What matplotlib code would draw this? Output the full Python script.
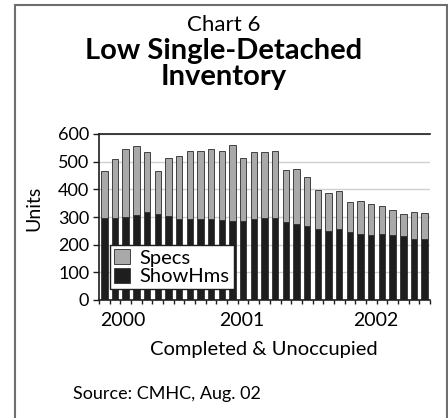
import matplotlib
matplotlib.use("Agg")
import matplotlib.pyplot as plt
from matplotlib.patches import Rectangle

# Inventario mensual ene 2000 - jul 2002 (unidades)
meses = list(range(31))
total = [465, 511, 545, 555, 535, 466, 513, 522, 537, 537, 547, 540, 560, 514,
         535, 535, 540, 471, 475, 444, 396, 385, 394, 354, 357, 348, 341, 327,
         310, 318, 313]
showhms = [296, 296, 301, 307, 318, 310, 304, 293, 293, 291, 293, 290, 287, 286,
           291, 296, 295, 283, 275, 266, 258, 251, 255, 246, 240, 234, 238, 235,
           231, 222, 220]
specs = [t - s for t, s in zip(total, showhms)]

anios = ["2000", "2001", "2002"]
pos_anios = [1.7, 12.9, 25.4]

plt.rcParams["font.family"] = ["Lato", "DejaVu Sans"]

fig = plt.figure(figsize=(4.48, 4.18), dpi=100)

# marco gris alrededor de todo
fig.patches.append(Rectangle((15 / 448, -0.01), 432 / 448, 1 - 5 / 418 + 0.01,
                             transform=fig.transFigure, fill=False,
                             edgecolor="#6e6e6e", linewidth=1.5))

ax = fig.add_axes([99 / 448, 1 - 300 / 418, 331 / 448, 166 / 418])

w = 0.6
ax.bar(meses, showhms, w, color="#1e1e1e", edgecolor="#1e1e1e", linewidth=0.5,
       label="ShowHms", zorder=3)
ax.bar(meses, specs, w, bottom=showhms, color="#a9a9a9", edgecolor="#2a2a2a",
       linewidth=0.6, label="Specs", zorder=3)

ax.set_xlim(-0.5, 30.5)
ax.set_ylim(0, 600)
ax.set_yticks(range(0, 601, 100))
ax.set_yticklabels(["0", "100", "200", "300", "400", "500", "600"], fontsize=13)
ax.yaxis.grid(True, color="#d0d0d0", linewidth=1, zorder=0)

# ticks en los limites entre barras
ax.set_xticks([i + 0.5 for i in range(-1, 31)])
ax.set_xticklabels([])
ax.tick_params(axis="x", direction="out", length=3, width=1, color="#1e1e1e")
ax.tick_params(axis="y", direction="out", length=4, width=1, color="#1e1e1e", pad=3)

for a, p in zip(anios, pos_anios):
    ax.text(p, -45, a, ha="center", va="top", fontsize=14,
            transform=ax.transData)

ax.spines["right"].set_visible(False)
for s in ["left", "bottom", "top"]:
    ax.spines[s].set_color("#1e1e1e")
    ax.spines[s].set_linewidth(1.2)

ax.set_ylabel("Units", fontsize=14)
ax.yaxis.set_label_coords(-0.17, 0.55)

handles, labels = ax.get_legend_handles_labels()
leg = ax.legend(handles[::-1], labels[::-1], loc="lower left",
                bbox_to_anchor=(0.02, 0.04), fontsize=14.5, frameon=True,
                fancybox=False, edgecolor="#1e1e1e", framealpha=1,
                handlelength=0.8, handleheight=0.8, handletextpad=0.5,
                borderpad=0.2, labelspacing=0.05, borderaxespad=0.2)
leg.get_frame().set_linewidth(1)
leg.set_zorder(5)

fig.text(0.5, 1 - 25 / 418, "Chart 6", ha="center", va="center", fontsize=16)
fig.text(0.5, 1 - 51 / 418, "Low Single-Detached", ha="center", va="center",
         fontsize=21, fontweight="bold")
fig.text(0.5, 1 - 77 / 418, "Inventory", ha="center", va="center",
         fontsize=21, fontweight="bold")
fig.text(264 / 448, 1 - 350 / 418, "Completed & Unoccupied", ha="center",
         va="center", fontsize=14.5)
fig.text(73 / 448, 1 - 394 / 418, "Source: CMHC, Aug. 02", ha="left",
         va="center", fontsize=13)

fig.savefig("out.png", dpi=100)
